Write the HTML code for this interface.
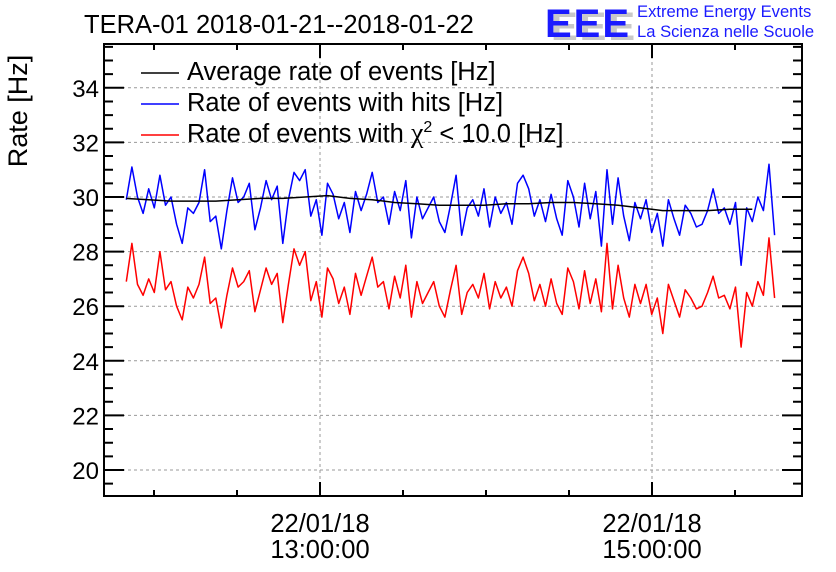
<!DOCTYPE html>
<html><head><meta charset="utf-8"><style>
html,body{margin:0;padding:0;background:#fff;width:836px;height:572px;overflow:hidden}
svg{display:block;font-family:"Liberation Sans",sans-serif}
</style></head><body>
<svg id="chart" width="836" height="572" viewBox="0 0 836 572">
<text x="84" y="33" font-size="25.5" fill="#000">TERA-01 2018-01-21--2018-01-22</text>
<text x="551" y="40" font-size="40" fill="#c8c8c8" font-weight="bold" letter-spacing="2">EEE</text>
<text x="545" y="37" font-size="40" fill="#1a1aff" font-weight="bold" letter-spacing="2">EEE</text>
<text x="637" y="17" font-size="16.6" fill="#1a1aff">Extreme Energy Events</text>
<text x="637" y="37" font-size="16.6" fill="#1a1aff">La Scienza nelle Scuole</text>
<text transform="translate(27,111) rotate(-90)" text-anchor="middle" font-size="27">Rate [Hz]</text>
<g id="grid"></g><g id="axes"></g><g id="series"></g>
<g>
<line x1="141" y1="73" x2="179" y2="73" stroke="#000" stroke-width="1.5"/>
<text x="187" y="80" font-size="25.5">Average rate of events [Hz]</text>
<line x1="141" y1="104" x2="179" y2="104" stroke="#0000ff" stroke-width="1.5"/>
<text x="187" y="111" font-size="25.5">Rate of events with hits [Hz]</text>
<line x1="141" y1="135" x2="179" y2="135" stroke="#ff0000" stroke-width="1.5"/>
<text x="187" y="142" font-size="25.5">Rate of events with <tspan font-family="'Liberation Serif',serif" font-size="28">χ</tspan><tspan font-size="16" dy="-10">2</tspan><tspan dy="10"> &lt; 10.0 [Hz]</tspan></text>
</g>
</svg>
<script>
const startMinutes = 11*60+50;   // 11:50
const stepMinutes = 2.02;
const hitsValues = [29.9,31.1,30.0,29.4,30.3,29.6,30.8,29.7,30.0,29.0,28.3,29.6,29.4,29.8,31.0,29.1,29.3,28.1,29.5,30.7,29.8,30.0,30.5,28.8,29.6,30.6,29.9,30.4,28.3,29.9,30.9,30.6,31.0,29.3,29.9,28.6,30.5,30.1,29.2,29.8,28.7,30.2,29.5,30.1,30.9,29.8,30.0,29.0,30.2,29.5,30.6,28.5,30.0,29.2,29.6,30.0,29.1,28.7,29.7,30.8,28.6,29.6,29.9,29.3,30.3,28.9,30.0,29.4,29.8,29.0,30.5,30.8,30.3,29.3,29.9,29.1,30.1,29.2,28.6,30.6,30.0,28.9,30.5,29.2,30.2,28.2,31.0,29.0,30.7,29.3,28.4,29.8,29.2,29.9,28.7,29.4,28.2,29.9,29.2,28.6,29.7,29.4,28.9,29.0,29.5,30.3,29.4,29.6,29.0,29.8,27.5,29.6,29.1,30.0,29.5,31.2,28.6];
const chi2Values = [26.9,28.3,26.8,26.4,27.0,26.5,28.0,26.6,26.9,26.0,25.5,26.7,26.3,26.8,27.8,26.1,26.3,25.2,26.4,27.4,26.7,26.9,27.3,25.8,26.6,27.4,26.8,27.2,25.4,26.8,28.1,27.5,28.0,26.2,26.9,25.6,27.4,27.0,26.1,26.7,25.7,27.2,26.4,27.1,27.8,26.7,26.9,25.9,27.1,26.3,27.5,25.6,26.9,26.1,26.5,26.9,26.0,25.6,26.6,27.5,25.7,26.5,26.8,26.3,27.2,25.9,26.9,26.3,26.7,26.0,27.3,27.8,27.2,26.2,26.8,26.0,27.0,26.1,25.7,27.4,26.9,25.9,27.3,26.1,27.0,25.8,28.3,25.9,27.5,26.3,25.6,26.8,26.1,26.8,25.7,26.3,25.0,26.8,26.2,25.6,26.6,26.3,25.9,26.0,26.5,27.1,26.3,26.4,25.9,26.7,24.5,26.5,26.0,26.9,26.4,28.5,26.3];
const avgValues = [29.95,29.9,29.85,29.85,29.85,29.9,29.95,29.95,30.0,30.05,29.95,29.9,29.8,29.75,29.7,29.7,29.7,29.75,29.75,29.8,29.8,29.75,29.7,29.6,29.5,29.5,29.5,29.55,29.55];
const avgEvery = 4;
const yTicks = [20,22,24,26,28,30,32,34];
const xTickMinutes = [13*60, 15*60];
const xTickDate = ["22/01/18","22/01/18"];
const xTickTime = ["13:00:00","15:00:00"];

const L=104,R=802,T=44,B=496;
const y = v => 470 - (v-20)*27.3;
const x = m => 320 + (m-780)*166/60;
const NS="http://www.w3.org/2000/svg";
function mk(tag, attrs, parent){const e=document.createElementNS(NS,tag);for(const k in attrs)e.setAttribute(k,attrs[k]);parent.appendChild(e);return e;}
const grid=document.getElementById('grid'), axes=document.getElementById('axes'), series=document.getElementById('series');

yTicks.forEach(v=>{
  const g=mk('line',{x1:L,x2:R,y1:y(v),y2:y(v),stroke:'#999','stroke-dasharray':'3,3','stroke-width':1},grid);
  
  
  const t=mk('text',{x:99,y:y(v)+9,'text-anchor':'end','font-size':24},axes);
  t.textContent=v;
  
  
});
xTickMinutes.forEach((m,i)=>{
  const g=mk('line',{x1:x(m),x2:x(m),y1:T,y2:B,stroke:'#999','stroke-dasharray':'3,3','stroke-width':1},grid);
  
  
  const t1=mk('text',{x:x(m),y:532,'text-anchor':'middle','font-size':25.5},axes);
  t1.textContent=xTickDate[i];
  
  
  const t2=mk('text',{x:x(m),y:558,'text-anchor':'middle','font-size':25.5},axes);
  t2.textContent=xTickTime[i];
  
  
});
let d='';
for(let v=19;v<=35.6;v+=0.5){const yy=y(v);if(yy<T||yy>B)continue;const len=(Math.abs(v%2)<1e-6)?20:9;d+=`M${L},${yy}h${len}M${R},${yy}h${-len}`;}
for(let m=11*60+30;m<=16*60;m+=30){const xx=x(m);if(xx<L||xx>R)continue;const len=(m%60===0&&(m/60)%2===1)?14:6;d+=`M${xx},${B}v${-len}M${xx},${T}v${len}`;}
const tk=mk('path',{d:d,stroke:'#000','stroke-width':2,fill:'none'},axes);


const fr=mk('rect',{x:L,y:T,width:R-L,height:B-T,fill:'none',stroke:'#000','stroke-width':2},axes);



function line(vals, step, color, name){
  const pts=vals.map((v,i)=>`${x(startMinutes+i*step*stepMinutes).toFixed(1)},${y(v).toFixed(1)}`).join(' ');
  const p=mk('polyline',{points:pts,fill:'none',stroke:color,'stroke-width':1.5,'stroke-linejoin':'round'},series);
  
  
}
line(chi2Values,1,'#ff0000','chi2-rate-line');
line(hitsValues,1,'#0000ff','hits-rate-line');
line(avgValues,avgEvery,'#000','average-rate-line');
</script>
</body></html>
